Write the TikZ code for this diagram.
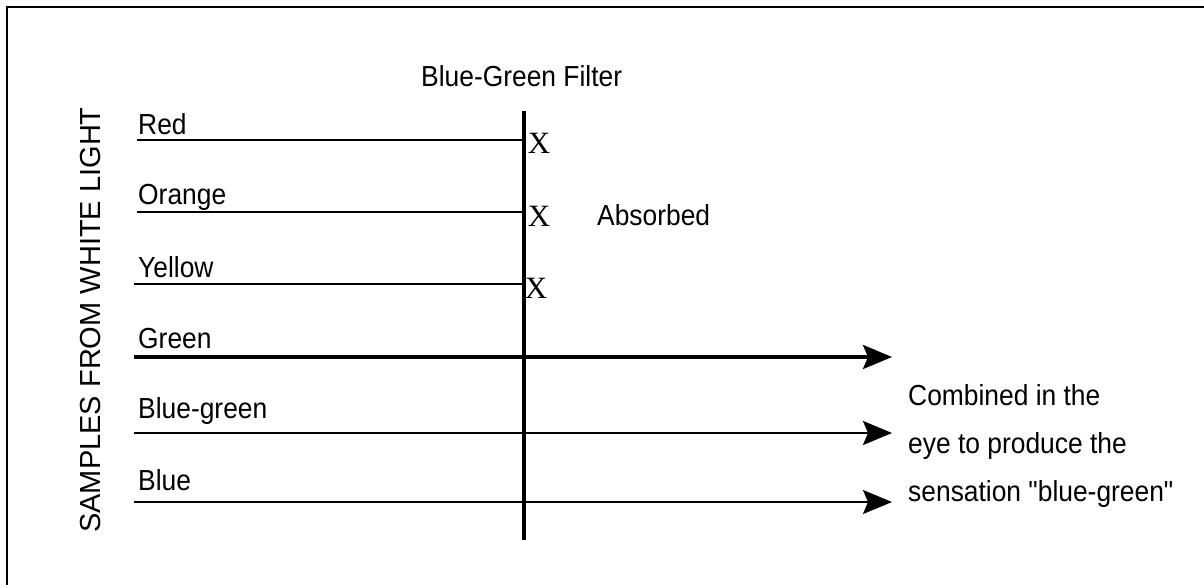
\documentclass[tikz,border=0pt]{standalone}
\usepackage{fontspec}
\newfontfamily\narrowsans{Liberation Sans}[FakeStretch=0.91]
\newfontfamily\plainsans{Liberation Sans}
\newfontfamily\serifx{Liberation Serif}
\usetikzlibrary{arrows.meta}

\begin{document}
\begin{tikzpicture}[x=1pt,y=-1pt,
  lbl/.style={anchor=base west, inner sep=0pt, font=\narrowsans\fontsize{29}{48}\selectfont},
  xmark/.style={inner sep=0pt, font=\serifx\fontsize{31}{31}\selectfont},
  blocked/.style={line width=1.3pt},
  passed/.style={line width=#1, -{Stealth[length=29pt,width=24pt,inset=5pt]}},
  filterline/.style={line width=3.5pt}
]
\useasboundingbox (0,0) rectangle (1204,585);

% outer frame (only the left and top edges fall inside the page)
\draw[line width=1.8pt] (7,585) -- (7,7) -- (1204,7);

% vertical caption
\node[rotate=90, anchor=base, inner sep=0pt,
      font=\plainsans\fontsize{29}{29}\selectfont] (samples) at (100,320)
      {SAMPLES FROM WHITE LIGHT};

% the filter
\node[lbl] (title) at (421,87) {Blue-Green Filter};
\coordinate (ftop) at (524,111);
\coordinate (fbot) at (524,540);
\draw[filterline] (ftop) -- (fbot);

% colour labels
\node[lbl] (red)    at (138,135) {Red};
\node[lbl] (orange) at (138,205) {Orange};
\node[lbl] (yellow) at (138,277) {Yellow};
\node[lbl] (green)  at (138,348) {Green};
\node[lbl] (bgreen) at (138,418) {Blue-green};
\node[lbl] (blue)   at (138,490) {Blue};

% absorbed rays
\coordinate (redA) at (137,140);    \coordinate (redB) at (ftop |- redA);
\coordinate (orA)  at (137,212);    \coordinate (orB)  at (ftop |- orA);
\coordinate (yeA)  at (134,284);    \coordinate (yeB)  at (ftop |- yeA);
\draw[blocked] (redA) -- (redB);
\draw[blocked] (orA) -- (orB);
\draw[blocked] (yeA) -- (yeB);

\node[xmark] (x1) at (539,143) {X};
\node[xmark] (x2) at (539,216) {X};
\node[xmark] (x3) at (536,288) {X};
\node[lbl] (absorbed) at (597,226) {Absorbed};

% transmitted rays
\coordinate (grA) at (134,357);  \coordinate (grB) at (892,357);
\coordinate (bgA) at (134,433);  \coordinate (bgB) at (892,433);
\coordinate (blA) at (134,502);  \coordinate (blB) at (892,502);
\draw[passed=3.3pt] (grA) -- (grB);
\draw[passed=2.3pt] (bgA) -- (bgB);
\draw[passed=2pt]   (blA) -- (blB);

% multi-line node: its base anchor sits on the last line
\node[lbl, align=left] (combined) at (908,501)
  {Combined in the\\eye to produce the\\sensation "blue-green"};
\end{tikzpicture}
\end{document}
